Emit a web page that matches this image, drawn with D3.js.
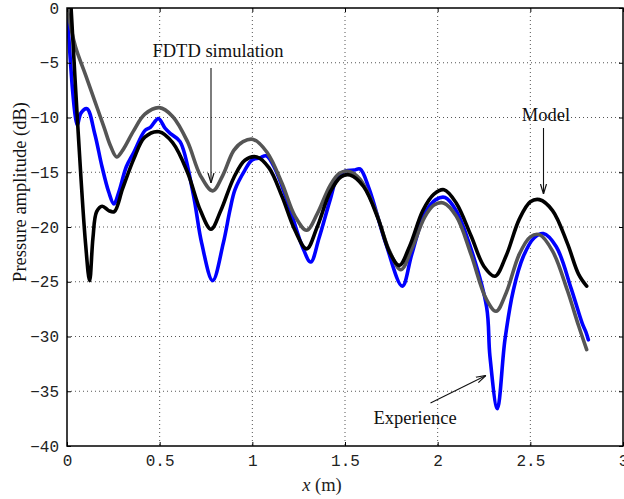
<!DOCTYPE html>
<html lang="en">
<head>
<meta charset="UTF-8">
<title>Pressure amplitude</title>
<script src="https://d3js.org/d3.v7.min.js"></script>
<style>
  body { margin: 0; background: #fff; }
  svg { display: block; }
</style>
</head>
<body>
<div id="chart"></div>
<script type="text/javascript">
// x positions (m) and levels (dB)
var modelX = [0.022, 0.058, 0.1, 0.122, 0.14, 0.16, 0.19, 0.225, 0.255, 0.3, 0.36, 0.42, 0.497, 0.57, 0.65, 0.72, 0.777, 0.83, 0.9, 0.96, 1.024, 1.09, 1.16, 1.23, 1.293, 1.35, 1.42, 1.48, 1.527, 1.6, 1.68, 1.74, 1.793, 1.85, 1.92, 1.98, 2.034, 2.1, 2.18, 2.25, 2.309, 2.37, 2.44, 2.5, 2.549, 2.62, 2.7, 2.76, 2.804];
var modelY = [0, -10.7, -21.5, -24.9, -21, -18.6, -18.1, -18.5, -18.6, -16.5, -13.8, -11.8, -11.3, -12.3, -15.0, -18.5, -20.2, -18.5, -15.5, -13.9, -13.6, -14.6, -17.2, -20.3, -22.0, -20.0, -16.8, -15.4, -15.25, -16.3, -19.3, -22.3, -23.5, -21.7, -18.5, -17.0, -16.6, -17.8, -20.8, -23.6, -24.5, -22.6, -19.3, -17.7, -17.5, -18.5, -21.5, -24.3, -25.4];

var fdtdX = [0, 0.045, 0.1, 0.15, 0.2, 0.235, 0.268, 0.3, 0.36, 0.42, 0.498, 0.57, 0.65, 0.72, 0.786, 0.84, 0.9, 0.95, 1.005, 1.08, 1.16, 1.23, 1.293, 1.35, 1.42, 1.47, 1.518, 1.58, 1.66, 1.74, 1.802, 1.86, 1.93, 1.98, 2.031, 2.1, 2.18, 2.26, 2.315, 2.37, 2.44, 2.5, 2.549, 2.62, 2.7, 2.76, 2.804];
var fdtdY = [0, -3.5, -6.1, -8.5, -10.9, -12.6, -13.6, -13.0, -11.2, -9.7, -9.1, -9.9, -12.2, -15.3, -16.7, -15.3, -13.0, -12.2, -12.0, -13.2, -16.0, -19.0, -20.3, -18.8, -16.2, -15.1, -14.9, -15.6, -18.3, -22.2, -23.9, -22.0, -19.1, -18.0, -17.8, -19.0, -22.5, -26.5, -27.7, -26.0, -22.5, -20.9, -20.7, -22.2, -25.8, -29.0, -31.2];

var expX = [0, 0.03, 0.045, 0.056, 0.075, 0.108, 0.15, 0.189, 0.225, 0.253, 0.28, 0.32, 0.36, 0.42, 0.45, 0.493, 0.53, 0.56, 0.61, 0.68, 0.727, 0.786, 0.843, 0.88, 0.906, 0.96, 0.997, 1.04, 1.075, 1.12, 1.2, 1.27, 1.315, 1.36, 1.42, 1.46, 1.5, 1.55, 1.581, 1.63, 1.72, 1.809, 1.86, 1.93, 1.99, 2.04, 2.1, 2.18, 2.264, 2.282, 2.322, 2.363, 2.408, 2.462, 2.52, 2.57, 2.64, 2.72, 2.78, 2.8, 2.813];
var expY = [0, -7.5, -9.9, -10.7, -9.6, -9.2, -11.5, -14.5, -16.8, -17.9, -16.8, -14.5, -13.2, -11.2, -10.9, -10.1, -11.0, -11.5, -12.2, -16.9, -21.5, -24.9, -21.5, -18.4, -16.6, -14.8, -13.9, -13.7, -13.5, -14.6, -18.2, -21.8, -23.2, -21.0, -17.5, -15.4, -14.9, -14.8, -14.7, -16.5, -21.5, -25.4, -22.5, -18.8, -17.5, -17.3, -18.5, -22.0, -27.3, -31.8, -36.6, -30.3, -25.8, -22.7, -21.0, -20.6, -21.8, -25.6, -28.8, -29.6, -30.3];

var xTicks = [0, 0.5, 1, 1.5, 2, 2.5, 3];
var xTickLabels = ["0", "0.5", "1", "1.5", "2", "2.5", "3"];
var yTicks = [0, -5, -10, -15, -20, -25, -30, -35, -40];
var yTickLabels = ["0", "\u22125", "\u221210", "\u221215", "\u221220", "\u221225", "\u221230", "\u221235", "\u221240"];

var width = 624, height = 499;
var plotL = 67, plotR = 623, plotT = 8, plotB = 446;

var svg = d3.select("#chart").append("svg")
    .attr("width", width)
    .attr("height", height);

var x = d3.scaleLinear().domain([0, 3]).range([plotL, plotR]);
var y = d3.scaleLinear().domain([-40, 0]).range([plotB, plotT]);

svg.append("clipPath").attr("id", "plotclip")
    .append("rect")
    .attr("x", plotL).attr("y", plotT)
    .attr("width", plotR - plotL).attr("height", plotB - plotT);

// grid
svg.append("g").selectAll("line").data(xTicks.slice(1, -1)).enter().append("line")
    .attr("x1", function(d) { return x(d); }).attr("x2", function(d) { return x(d); })
    .attr("y1", plotT).attr("y2", plotB)
    .attr("stroke", "#555").attr("stroke-width", 1).attr("stroke-dasharray", "1,3");
svg.append("g").selectAll("line").data(yTicks.slice(1, -1)).enter().append("line")
    .attr("y1", function(d) { return y(d); }).attr("y2", function(d) { return y(d); })
    .attr("x1", plotL).attr("x2", plotR)
    .attr("stroke", "#555").attr("stroke-width", 1).attr("stroke-dasharray", "1,3");

// curves
var line = d3.line()
    .x(function(d) { return x(d[0]); })
    .y(function(d) { return y(d[1]); })
    .curve(d3.curveCatmullRom.alpha(0.5));

var series = [
    {xs: expX, ys: expY, color: "#0000ff"},
    {xs: fdtdX, ys: fdtdY, color: "#555555"},
    {xs: modelX, ys: modelY, color: "#000000"}
];

var curves = svg.append("g").attr("clip-path", "url(#plotclip)");
series.forEach(function(s) {
    curves.append("path")
        .attr("d", line(d3.zip(s.xs, s.ys)))
        .attr("fill", "none")
        .attr("stroke", s.color)
        .attr("stroke-width", 3.6)
        .attr("stroke-linejoin", "round")
        .attr("stroke-linecap", "round");
});

// axes with inward ticks on all four sides
var axB = svg.append("g").attr("transform", "translate(0," + plotB + ")")
    .call(d3.axisBottom(x).tickValues(xTicks).tickSize(-4).tickPadding(9)
        .tickFormat(function(d, i) { return xTickLabels[i]; }));
var axL = svg.append("g").attr("transform", "translate(" + plotL + ",0)")
    .call(d3.axisLeft(y).tickValues(yTicks).tickSize(-4).tickPadding(8)
        .tickFormat(function(d, i) { return yTickLabels[i]; }));
var axT = svg.append("g").attr("transform", "translate(0," + plotT + ")")
    .call(d3.axisTop(x).tickValues(xTicks).tickSize(-4).tickFormat(""));
var axR = svg.append("g").attr("transform", "translate(" + plotR + ",0)")
    .call(d3.axisRight(y).tickValues(yTicks).tickSize(-4).tickFormat(""));

[axB, axL, axT, axR].forEach(function(a) {
    a.select(".domain").remove();
    a.selectAll(".tick line").attr("stroke", "#000").attr("stroke-width", 1);
    a.selectAll(".tick text")
        .attr("font-family", "'Liberation Mono', 'DejaVu Sans Mono', monospace")
        .attr("font-size", "16px")
        .attr("fill", "#222");
});

svg.append("rect")
    .attr("x", plotL).attr("y", plotT)
    .attr("width", plotR - plotL).attr("height", plotB - plotT)
    .attr("fill", "none").attr("stroke", "#000").attr("stroke-width", 1.5);

// axis titles
var serif = "'Liberation Serif', 'Times New Roman', serif";
var xl = svg.append("text")
    .attr("x", 322).attr("y", 491)
    .attr("text-anchor", "middle")
    .attr("font-family", serif).attr("font-size", "18.5px").attr("fill", "#222");
xl.append("tspan").attr("font-style", "italic").text("x");
xl.append("tspan").text(" (m)");

svg.append("text")
    .attr("transform", "translate(26,192) rotate(-90)")
    .attr("text-anchor", "middle")
    .attr("font-family", serif).attr("font-size", "18.5px").attr("fill", "#111")
    .text("Pressure amplitude (dB)");

// annotations
svg.append("defs").append("marker")
    .attr("id", "arrow")
    .attr("viewBox", "0 0 10 10")
    .attr("refX", 10).attr("refY", 5)
    .attr("markerWidth", 10).attr("markerHeight", 10)
    .attr("markerUnits", "userSpaceOnUse")
    .attr("orient", "auto")
    .append("path")
    .attr("d", "M0,2 L10,5 L0,8")
    .attr("fill", "none").attr("stroke", "#111").attr("stroke-width", 1.2);

var notes = [
    {text: "FDTD simulation", tx: 218, ty: 57, x1: 211, y1: 68, x2: 211, y2: 183},
    {text: "Model", tx: 546, ty: 121, x1: 543.5, y1: 128, x2: 543.5, y2: 194},
    {text: "Experience", tx: 415, ty: 424, x1: 430.5, y1: 403, x2: 486, y2: 375.5}
];
notes.forEach(function(n) {
    svg.append("text")
        .attr("x", n.tx).attr("y", n.ty)
        .attr("text-anchor", "middle")
        .attr("font-family", serif).attr("font-size", "18.5px").attr("fill", "#111")
        .text(n.text);
    svg.append("line")
        .attr("x1", n.x1).attr("y1", n.y1).attr("x2", n.x2).attr("y2", n.y2)
        .attr("stroke", "#111").attr("stroke-width", 1.1)
        .attr("marker-end", "url(#arrow)");
});
</script>
</body>
</html>
